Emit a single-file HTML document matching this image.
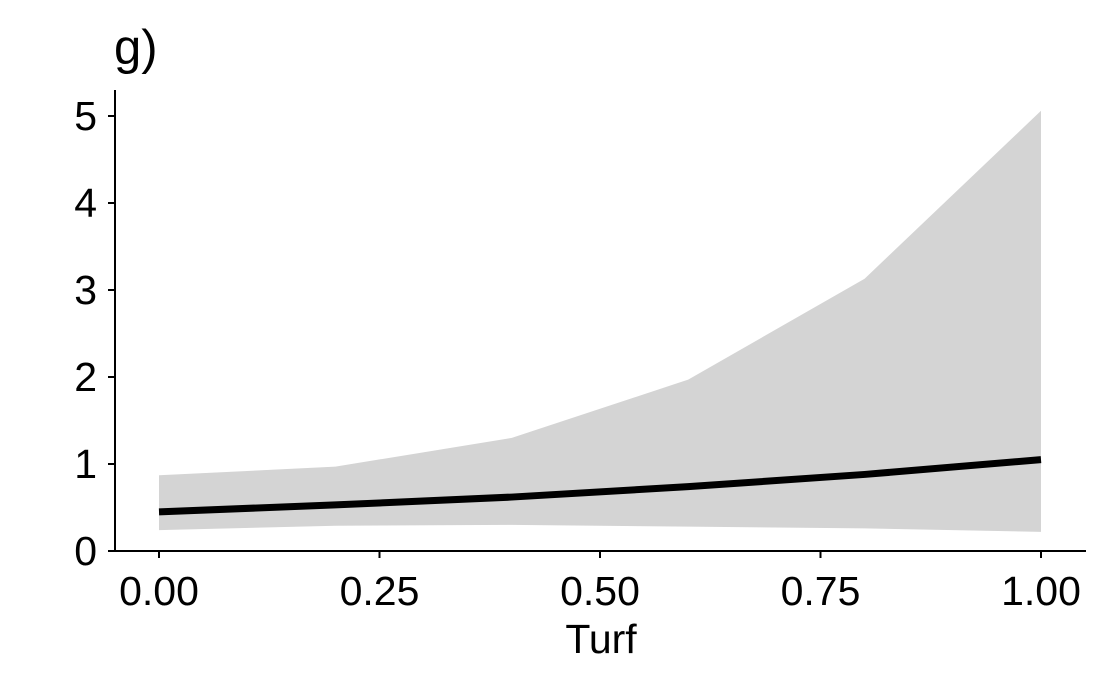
<!DOCTYPE html>
<html><head><meta charset="utf-8"><style>
html,body{margin:0;padding:0;background:#fff;}
svg{display:block;font-family:"Liberation Sans",Arial,sans-serif;}
</style></head><body>
<svg id="chart" width="1108" height="684">
<text x="114" y="64" font-size="49">g)</text>
<g id="plot"></g>
<text x="601" y="653" font-size="41" text-anchor="middle">Turf</text>
</svg>
<script>
const xs=[0,0.2,0.4,0.6,0.8,1.0];
const upper=[0.87,0.97,1.30,1.97,3.13,5.06];
const lower=[0.24,0.29,0.30,0.28,0.26,0.22];
const fit=[0.45,0.53,0.62,0.74,0.88,1.05];
const xTicks=[0,0.25,0.5,0.75,1.0];
const xTickLabels=["0.00","0.25","0.50","0.75","1.00"];
const yTicks=[0,1,2,3,4,5];
const yTickLabels=["0","1","2","3","4","5"];
const NS="http://www.w3.org/2000/svg";
const X=v=>159+v*882;
const Y=v=>551-v*87;
const g=document.getElementById('plot');
function mk(t,a){const e=document.createElementNS(NS,t);for(const k in a)e.setAttribute(k,a[k]);g.appendChild(e);return e;}
let d=xs.map((x,i)=>(i?'L':'M')+X(x)+','+Y(upper[i])).join('');
for(let i=xs.length-1;i>=0;i--)d+='L'+X(xs[i])+','+Y(lower[i]);
const rib=mk('path',{d:d+'Z',fill:'#d4d4d4'});


const ln=mk('path',{d:xs.map((x,i)=>(i?'L':'M')+X(x)+','+Y(fit[i])).join(''),fill:'none',stroke:'#000','stroke-width':7});


const ya=mk('line',{x1:115,y1:90,x2:115,y2:551,stroke:'#000','stroke-width':2});


const xa=mk('line',{x1:115,y1:551,x2:1086,y2:551,stroke:'#000','stroke-width':2});


yTicks.forEach((v,i)=>{
 mk('line',{x1:108,x2:115,y1:Y(v),y2:Y(v),stroke:'#000','stroke-width':2});
 const t=mk('text',{x:97,y:Y(v)+14,'font-size':41,'text-anchor':'end',fill:'#000'});
 t.textContent=yTickLabels[i];
 
 
});
xTicks.forEach((v,i)=>{
 mk('line',{x1:X(v),x2:X(v),y1:551,y2:558,stroke:'#000','stroke-width':2});
 const t=mk('text',{x:X(v),y:605,'font-size':41,'text-anchor':'middle',fill:'#000'});
 t.textContent=xTickLabels[i];
 
 
});
</script>
</body></html>
